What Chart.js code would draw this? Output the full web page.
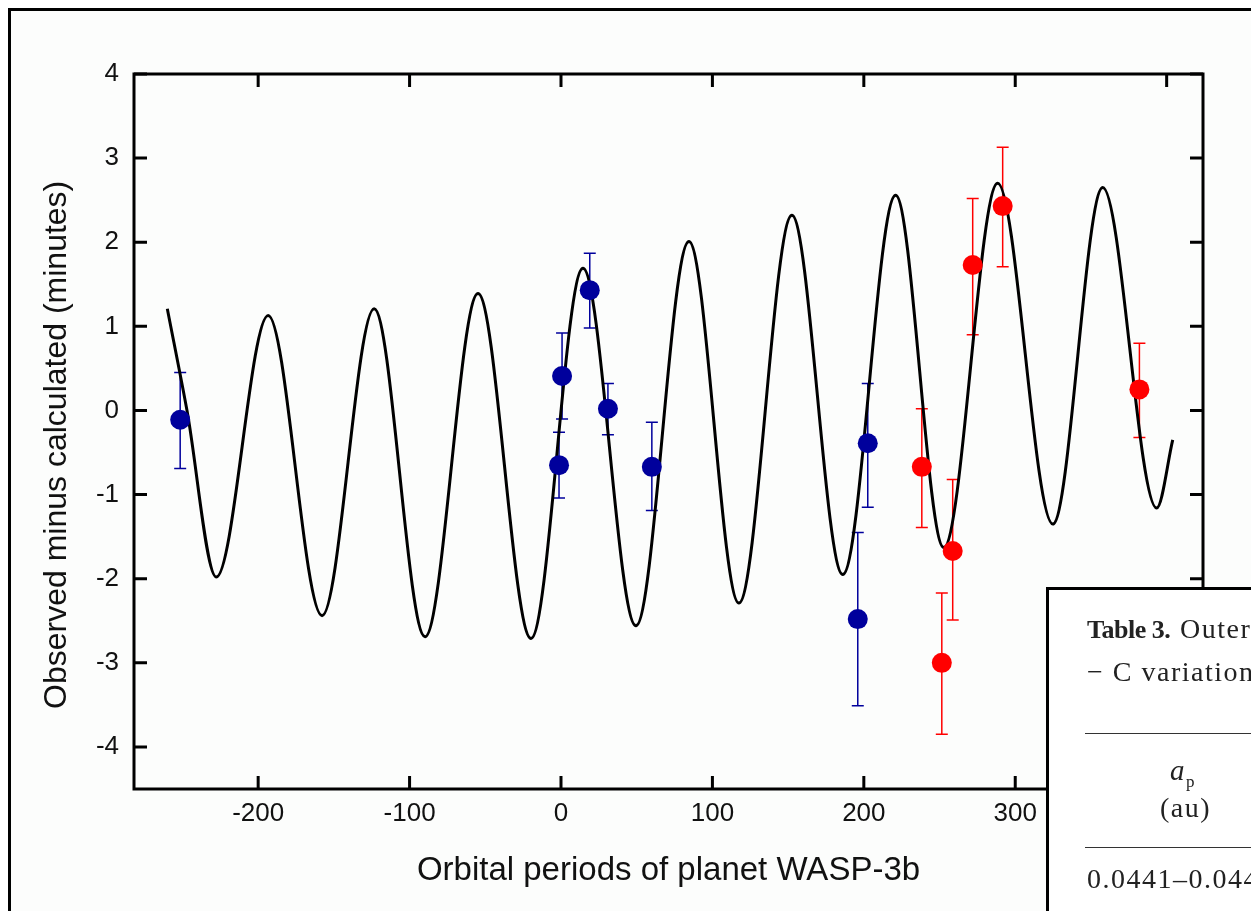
<!DOCTYPE html>
<html>
<head>
<meta charset="utf-8">
<script src="https://cdn.jsdelivr.net/npm/chart.js@4/dist/chart.umd.min.js"></script>
<style>
  html, body { margin: 0; padding: 0; background: #fff; overflow: hidden; }
  #frame { position: absolute; left: 8px; top: 8px; width: 1300px; height: 1000px;
           border-left: 3px solid #000; border-top: 3px solid #000; background: #fcfdfc; }
  #chart { position: absolute; left: 0; top: 0; }
  #table3 { position: absolute; left: 1046px; top: 587px; width: 400px; height: 400px;
            border-left: 3px solid #000; border-top: 3px solid #000; background: #fff;
            font-family: 'Liberation Serif', 'Times New Roman', serif; color: #222;
            font-size: 28px; letter-spacing: 1.5px; }
  #table3 span, #table3 div { position: absolute; white-space: nowrap; line-height: 1; }
  .rule { height: 1px; background: #333; left: 36px; width: 300px; }
</style>
</head>
<body>
<div id="frame"></div>
<canvas id="chart" width="1251" height="911"></canvas>
<div id="table3">
  <span style="left:38px; top:27px; font-size:26px; letter-spacing:-0.5px;"><b>Table 3.</b></span>
  <span style="left:131px; top:25px;">Outer planet parameters</span>
  <span style="left:38px; top:68px;">− C variations</span>
  <div class="rule" style="top:143px;"></div>
  <span style="left:121px; top:166px; font-size:29px;"><i>a</i><sub style="font-size:17px;">p</sub></span>
  <span style="left:111px; top:204px;">(au)</span>
  <div class="rule" style="top:257px;"></div>
  <span style="left:38px; top:275px;">0.0441–0.0446</span>
</div>
<script>
// model curve (turning points)
const modelX = [-260, -247, -227.7, -193.4, -157.8, -123.4, -89.8, -54.8, -19.8, 14.5, 49.5,
                84.5, 117.5, 152.5, 186.1, 221, 252.8, 288.4, 324.8, 357.8, 393.4, 404];
const modelY = [1.21, 0.0, -1.98, 1.13, -2.44, 1.21, -2.69, 1.39, -2.71, 1.69, -2.56,
                2.01, -2.29, 2.32, -1.95, 2.56, -1.63, 2.70, -1.35, 2.65, -1.16, -0.35];

// blue observations
const blueX = [-251.5, -1.3, 0.7, 19, 31, 60, 196, 202.6];
const blueY = [-0.11, -0.65, 0.41, 1.43, 0.02, -0.67, -2.48, -0.39];
const blueLo = [-0.69, -1.04, -0.10, 0.98, -0.29, -1.19, -3.51, -1.15];
const blueHi = [0.45, -0.26, 0.92, 1.87, 0.32, -0.14, -1.45, 0.32];

// red observations
const redX = [238.3, 251.5, 258.7, 271.9, 291.7, 382];
const redY = [-0.67, -3.0, -1.67, 1.73, 2.43, 0.25];
const redLo = [-1.39, -3.85, -2.49, 0.90, 1.71, -0.32];
const redHi = [0.02, -2.17, -0.82, 2.52, 3.13, 0.80];

const xTicks = [-200, -100, 0, 100, 200, 300, 400];
const yTicks = [-4, -3, -2, -1, 0, 1, 2, 3, 4];

const BLUE = "#00009c";
const RED = "#ff0000";

function pts(xs, ys) {
    return xs.map((x, i) => ({ x: x, y: ys[i] }));
}

Chart.defaults.font.family = "'Liberation Sans', Arial, sans-serif";
Chart.defaults.color = "#111";

// error bars under the markers, box with inward ticks on top
const boxPlugin = {
    id: "box",
    beforeDatasetsDraw(chart) {
        const ctx = chart.ctx;
        const sx = chart.scales.x, sy = chart.scales.y;
        function bars(xs, lo, hi, color) {
            ctx.save();
            ctx.strokeStyle = color;
            ctx.lineWidth = 1.5;
            xs.forEach((x, i) => {
                const px = sx.getPixelForValue(x);
                const p1 = sy.getPixelForValue(lo[i]);
                const p2 = sy.getPixelForValue(hi[i]);
                ctx.beginPath();
                ctx.moveTo(px, p1); ctx.lineTo(px, p2);
                ctx.moveTo(px - 6, p1); ctx.lineTo(px + 6, p1);
                ctx.moveTo(px - 6, p2); ctx.lineTo(px + 6, p2);
                ctx.stroke();
            });
            ctx.restore();
        }
        bars(blueX, blueLo, blueHi, BLUE);
        bars(redX, redLo, redHi, RED);
    },
    afterDraw(chart) {
        const ctx = chart.ctx;
        const a = chart.chartArea;
        const sx = chart.scales.x, sy = chart.scales.y;
        const tl = 13;
        ctx.save();
        ctx.strokeStyle = "#000";
        ctx.lineWidth = 3;
        ctx.strokeRect(a.left, a.top, a.right - a.left, a.bottom - a.top);
        ctx.beginPath();
        sx.ticks.forEach(t => {
            const px = sx.getPixelForValue(t.value);
            ctx.moveTo(px, a.bottom); ctx.lineTo(px, a.bottom - tl);
            ctx.moveTo(px, a.top); ctx.lineTo(px, a.top + tl);
        });
        sy.ticks.forEach(t => {
            const py = sy.getPixelForValue(t.value);
            ctx.moveTo(a.left, py); ctx.lineTo(a.left + tl, py);
            ctx.moveTo(a.right, py); ctx.lineTo(a.right - tl, py);
        });
        ctx.stroke();
        ctx.restore();
    }
};

new Chart(document.getElementById("chart"), {
    type: "scatter",
    data: {
        datasets: [
            { label: "blue", data: pts(blueX, blueY), backgroundColor: BLUE, borderWidth: 0, pointRadius: 10 },
            { label: "red", data: pts(redX, redY), backgroundColor: RED, borderWidth: 0, pointRadius: 10 },
            { label: "model", data: pts(modelX, modelY), showLine: true, pointRadius: 0,
              borderColor: "#000", borderWidth: 3, cubicInterpolationMode: "monotone", fill: false }
        ]
    },
    options: {
        responsive: false,
        animation: false,
        layout: { padding: { left: 0, top: 74, right: 48, bottom: 0 } },
        plugins: { legend: { display: false }, tooltip: { enabled: false } },
        scales: {
            x: {
                type: "linear", min: -282, max: 424,
                afterBuildTicks: s => { s.ticks = xTicks.map(v => ({ value: v })); },
                afterFit: s => { s.height = 122; },
                grid: { display: false, drawTicks: false },
                border: { display: false },
                ticks: { font: { size: 26 }, padding: 9 },
                title: { display: true, text: "Orbital periods of planet WASP-3b",
                         font: { size: 33 }, padding: { top: 0, bottom: 20 } }
            },
            y: {
                type: "linear", min: -4.5, max: 4,
                afterBuildTicks: s => { s.ticks = yTicks.map(v => ({ value: v })); },
                afterFit: s => { s.width = 134; },
                grid: { display: false, drawTicks: false },
                border: { display: false },
                ticks: { font: { size: 26 }, padding: 15 },
                // trailing spaces nudge the rotated title down a little, as in the original
                title: { display: true, text: "Observed minus calculated (minutes)\u00a0\u00a0\u00a0",
                         font: { size: 32 }, padding: { top: 38, bottom: 0 } }
            }
        }
    },
    plugins: [boxPlugin]
});
</script>
</body>
</html>
